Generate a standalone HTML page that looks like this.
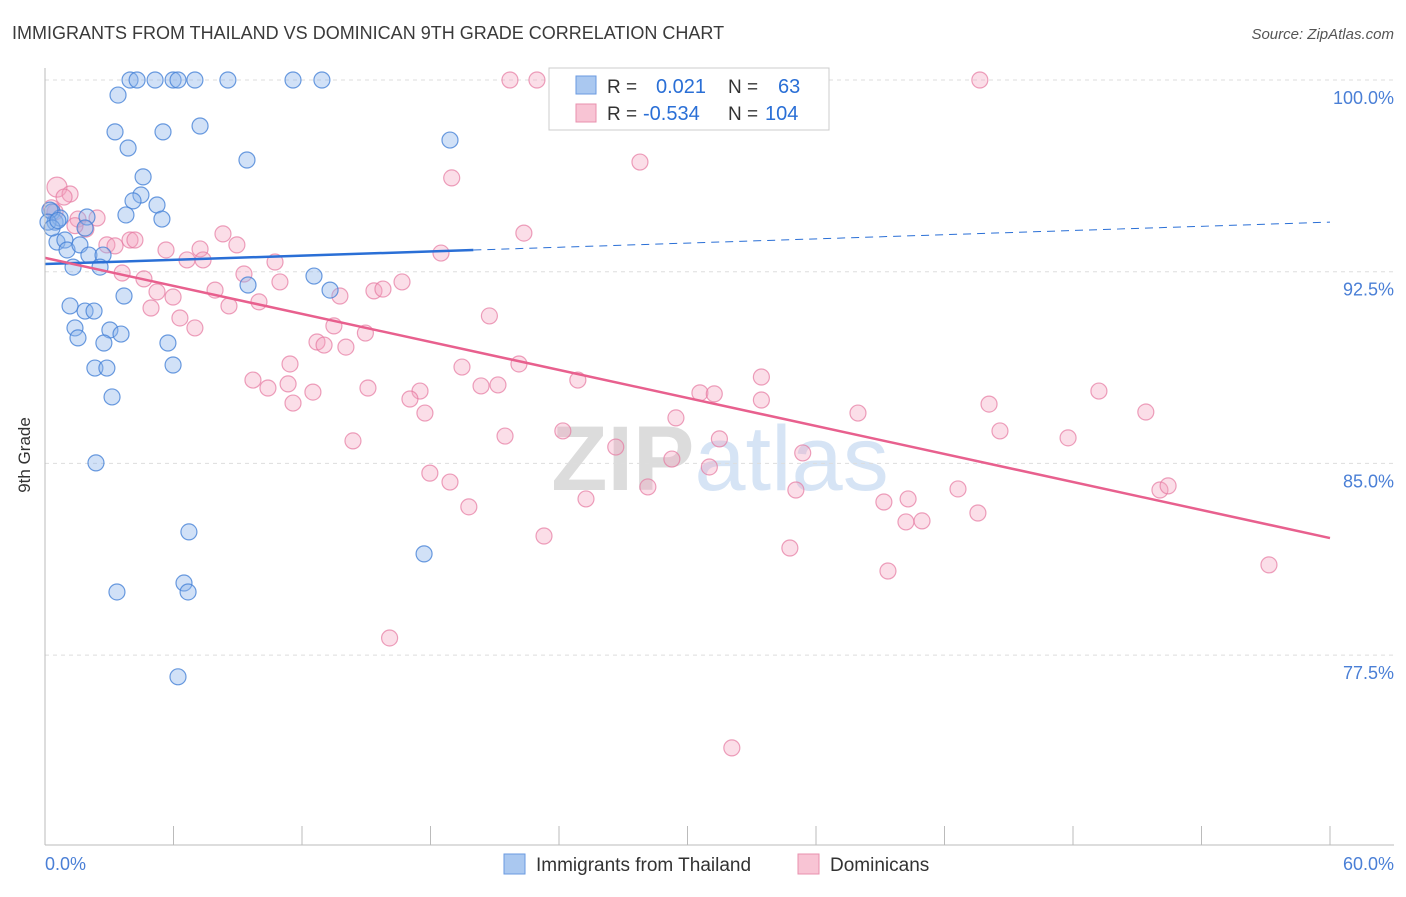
<!DOCTYPE html>
<html><head><meta charset="utf-8"><style>
body{margin:0;background:#fff;font-family:"Liberation Sans",sans-serif;}
svg text{font-family:"Liberation Sans",sans-serif;}
</style></head><body>
<svg id="chart" width="1406" height="892" xmlns="http://www.w3.org/2000/svg">
<text x="12" y="39" font-size="18" fill="#3a3a3a">IMMIGRANTS FROM THAILAND VS DOMINICAN 9TH GRADE CORRELATION CHART</text>
<text x="1394" y="39" font-size="15" fill="#555" font-style="italic" text-anchor="end">Source: ZipAtlas.com</text>
<text x="720" y="490" font-size="92" fill="#e4e4e4" text-anchor="middle" font-family="Liberation Serif"><tspan font-weight="bold" fill="#dcdcdc">ZIP</tspan><tspan fill="#d6e4f5" font-family="Liberation Sans">atlas</tspan></text>
<g id="grid"></g><g id="pts"></g><g id="lines"></g>
<line x1="45" y1="68" x2="45" y2="845" stroke="#bbb"/>
<line x1="45" y1="845" x2="1394" y2="845" stroke="#bbb"/>
<text x="30" y="455" font-size="17" fill="#333" transform="rotate(-90 30 455)" text-anchor="middle">9th Grade</text>
<text x="45" y="870" font-size="18" fill="#4a7fd6">0.0%</text>
<text x="1394" y="870" font-size="18" fill="#4a7fd6" text-anchor="end">60.0%</text>
<g>
<rect x="549" y="68" width="280" height="62" fill="#fff" stroke="#ccc"/>
<rect x="576" y="76" width="20" height="18" fill="#aac8f0" stroke="#6a9ae0"/>
<rect x="576" y="104" width="20" height="18" fill="#f8c4d4" stroke="#e890ae"/>
<text x="607" y="93" font-size="19" fill="#333">R = </text><text x="656" y="93" font-size="20" fill="#2a6fd6">0.021</text>
<text x="728" y="93" font-size="19" fill="#333">N = </text><text x="778" y="93" font-size="20" fill="#2a6fd6">63</text>
<text x="607" y="120" font-size="19" fill="#333">R = </text><text x="643" y="120" font-size="20" fill="#2a6fd6">-0.534</text>
<text x="728" y="120" font-size="19" fill="#333">N = </text><text x="765" y="120" font-size="20" fill="#2a6fd6">104</text>
</g>
<g><rect x="504" y="854" width="21" height="20" fill="#aac8f0" stroke="#6a9ae0"/><text x="536" y="871" font-size="19" fill="#333">Immigrants from Thailand</text></g>
<g><rect x="798" y="854" width="21" height="20" fill="#f8c4d4" stroke="#e890ae"/><text x="830" y="871" font-size="19" fill="#333">Dominicans</text></g>
</svg>
<script>
const yTicks=[100,92.5,85,77.5];
const xTicks=[0,6,12,18,24,30,36,42,48,54,60];
const blueX=[3.97,4.30,5.14,5.98,6.21,7.00,8.54,11.58,12.93,3.41,3.27,5.51,7.24,3.88,9.43,18.91,4.58,4.48,4.11,5.23,3.78,5.46,0.33,0.47,0.70,1.96,1.87,0.56,0.93,1.03,1.63,2.05,2.71,1.31,2.57,12.56,9.48,13.31,3.69,1.17,1.87,2.29,1.40,3.03,3.55,1.54,2.75,5.74,5.98,2.33,2.89,3.13,2.38,6.72,17.70,6.49,3.36,6.68,6.21,0.23,0.14,0.33,0.6];
const blueY=[100,100,100,100,100,100,100,100,100,99.41,97.97,97.97,98.20,97.34,96.87,97.65,96.21,95.50,95.27,95.11,94.72,94.56,94.84,94.44,94.60,94.64,94.21,93.66,93.74,93.35,93.55,93.15,93.15,92.68,92.68,92.33,91.98,91.78,91.55,91.16,90.96,90.96,90.30,90.22,90.06,89.91,89.71,89.71,88.85,88.73,88.73,87.60,85.02,82.32,81.46,80.32,79.97,79.97,76.65,94.91,94.44,94.21,94.5];
const pinkX=[0.56,1.17,0.89,0.47,1.54,2.43,1.91,2.89,3.27,3.97,4.20,5.65,7.24,8.31,8.96,6.63,7.38,3.60,4.62,5.23,5.98,7.94,9.29,10.74,10.97,9.99,8.59,4.95,6.30,7.00,13.77,15.36,15.78,16.67,13.49,14.96,12.70,13.03,14.05,11.44,9.71,10.41,11.35,12.51,11.58,15.08,17.51,17.04,17.74,14.38,18.99,18.49,19.47,20.75,20.36,21.15,22.13,22.36,21.48,17.97,18.91,19.79,23.30,24.18,24.88,25.26,26.65,27.78,28.15,29.27,29.46,30.58,31.25,31.02,31.49,33.45,33.45,35.06,34.78,35.38,37.96,39.17,39.36,40.20,40.30,40.95,42.63,43.56,44.08,44.59,47.77,49.21,51.40,52.06,52.44,57.15,32.07,16.09,21.71,22.97,43.65,32.54,0.3,1.4];
const pinkY=[95.81,95.54,95.42,94.84,94.56,94.60,94.17,93.55,93.51,93.74,93.74,93.35,93.39,93.98,93.55,92.96,92.96,92.45,92.22,91.71,91.51,91.78,92.41,92.88,92.10,91.32,91.16,91.08,90.69,90.30,91.55,91.75,91.82,92.10,90.38,90.10,89.75,89.63,89.55,88.89,88.26,87.95,88.11,87.79,87.36,87.95,87.83,87.52,86.97,85.88,96.17,93.23,88.77,90.77,88.03,88.07,88.89,94.01,86.07,84.62,84.27,83.30,82.16,86.27,88.26,83.61,85.64,96.79,84.08,85.17,86.78,87.76,87.72,84.86,85.96,87.48,88.38,83.96,81.69,85.41,86.97,83.49,80.79,82.71,83.61,82.75,84.00,83.06,87.32,86.27,86.00,87.83,87.01,83.96,84.12,81.03,73.87,78.17,100,100,100,100,95.0,94.3];
const blueTrend=[92.80,94.44];
const pinkTrend=[93.04,82.08];
const NS='http://www.w3.org/2000/svg';
function sx(v){return 45+v/60*1285;}
function sy(v){return 80+(100-v)/7.5*191.7;}
function mk(t,a,p){const e=document.createElementNS(NS,t);for(const k in a)e.setAttribute(k,a[k]);p.appendChild(e);return e;}
const grid=document.getElementById('grid');
yTicks.forEach(t=>{
 const l=mk('line',{x1:45,x2:1394,y1:sy(t),y2:sy(t),stroke:'#ddd','stroke-dasharray':'4,4'},grid);
 
 
 const tx=mk('text',{x:1394,y:sy(t)+24,'font-size':18,fill:'#4a7fd6','text-anchor':'end'},grid);
 tx.textContent=t.toFixed(1)+'%';
 
 
});
xTicks.forEach(t=>{
 const l=mk('line',{x1:sx(t),x2:sx(t),y1:826,y2:845,stroke:'#bbb'},grid);
 
 
});
const pts=document.getElementById('pts');
pinkX.forEach((x,i)=>{
 const c=mk('circle',{cx:sx(x),cy:sy(pinkY[i]),r:(i==0?10:8),fill:'rgba(244,160,190,0.35)',stroke:'rgba(230,120,160,0.7)','stroke-width':1.2},pts);
 
 
});
blueX.forEach((x,i)=>{
 const c=mk('circle',{cx:sx(x),cy:sy(blueY[i]),r:8,fill:'rgba(140,180,235,0.4)',stroke:'rgba(70,130,215,0.8)','stroke-width':1.2},pts);
 
 
});
const lines=document.getElementById('lines');
const bm=blueTrend[0]+(blueTrend[1]-blueTrend[0])*(20/60);
let l1=mk('line',{x1:sx(0),y1:sy(blueTrend[0]),x2:sx(20),y2:sy(bm),stroke:'#2a6fd6','stroke-width':2.5},lines);


let l2=mk('line',{x1:sx(20),y1:sy(bm),x2:sx(60),y2:sy(blueTrend[1]),stroke:'#2a6fd6','stroke-width':1,'stroke-dasharray':'8,6'},lines);


let l3=mk('line',{x1:sx(0),y1:sy(pinkTrend[0]),x2:sx(60),y2:sy(pinkTrend[1]),stroke:'#e8608e','stroke-width':2.5},lines);


</script>
</body></html>
